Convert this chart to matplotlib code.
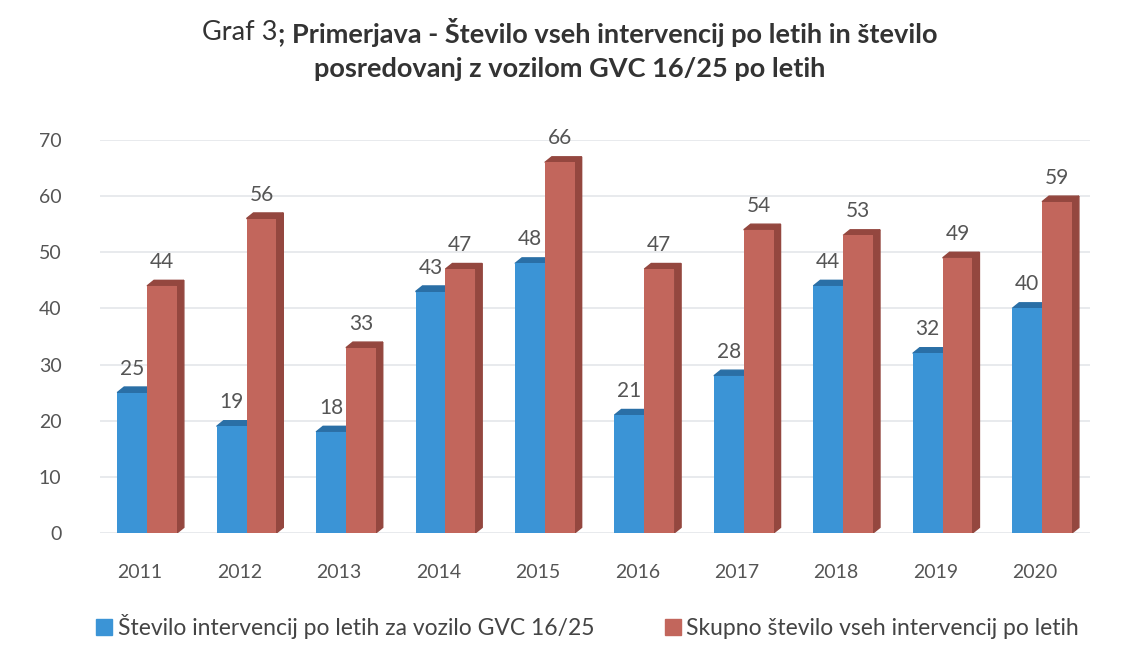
import matplotlib.pyplot as plt
from matplotlib.patches import Polygon
from matplotlib.lines import Line2D

# Data
years = ['2011', '2012', '2013', '2014', '2015', '2016', '2017', '2018', '2019', '2020']
gvc_counts = [25, 19, 18, 43, 48, 21, 28, 44, 32, 40]
total_counts = [44, 56, 33, 47, 66, 47, 54, 53, 49, 59]

label_gvc = 'Število intervencij po letih za vozilo GVC 16/25'
label_total = 'Skupno število vseh intervencij po letih'

blue = '#3b94d6'
blue_dark = '#2a6fa6'
red = '#c2665c'
red_dark = '#94473f'
text_col = '#555555'

plt.rcParams['font.family'] = ['Lato', 'DejaVu Sans']

fig = plt.figure(figsize=(11.4, 6.54), dpi=100)
ax = fig.add_axes([0.088, 0.185, 0.868, 0.601])

x = list(range(len(years)))
width = 0.3
depth_x = 0.07   # 3D depth offset, in x data units
depth_y = 1.0    # 3D depth offset, in y data units

ax.set_xlim(-0.47, 9.48)
ax.set_ylim(0, 70)
ax.set_yticks(range(0, 71, 10))
ax.grid(axis='y', color='#e4e6ea', linewidth=1.2)
ax.set_axisbelow(True)
for s in ax.spines.values():
    s.set_visible(False)

bars_gvc = ax.bar([i - width / 2 for i in x], gvc_counts, width, color=blue, zorder=3)
bars_total = ax.bar([i + width / 2 for i in x], total_counts, width, color=red, zorder=3)


def add_depth(bars, top_col, side_col, draw_side):
    for b in bars:
        x0 = b.get_x()
        x1 = x0 + b.get_width()
        h = b.get_height()
        top = Polygon([(x0, h), (x0 + depth_x, h + depth_y), (x1 + depth_x, h + depth_y), (x1, h)],
                      closed=True, color=top_col, zorder=2.5)
        ax.add_patch(top)
        if draw_side:
            side = Polygon([(x1, 0), (x1 + depth_x, depth_y), (x1 + depth_x, h + depth_y), (x1, h)],
                           closed=True, color=side_col, zorder=2.5)
            ax.add_patch(side)
        ax.text(x0 + b.get_width() / 2, h + depth_y + 1.5, str(int(h)), ha='center', va='bottom',
                fontsize=15, color=text_col)


add_depth(bars_gvc, blue_dark, blue_dark, False)
add_depth(bars_total, red_dark, red_dark, True)

ax.set_xticks([i - 0.07 for i in x])
ax.set_xticklabels(years)
ax.tick_params(axis='x', length=0, pad=22, labelsize=14, labelcolor=text_col)
ax.tick_params(axis='y', length=0, pad=28, labelsize=14, labelcolor=text_col)

# Title: "Graf 3" normal weight, the rest bold
renderer = fig.canvas.get_renderer()
t1 = fig.text(0, 0.95, 'Graf 3', fontsize=19.5, color='#333333', va='center', ha='left')
t2 = fig.text(0, 0.95, '; Primerjava - Število vseh intervencij po letih in število',
              fontsize=19.5, fontweight='bold', color='#333333', va='center', ha='left')
w1 = t1.get_window_extent(renderer).width
w2 = t2.get_window_extent(renderer).width
start = (fig.bbox.width - w1 - w2) / 2
t1.set_x(start / fig.bbox.width)
t2.set_x((start + w1) / fig.bbox.width)
fig.text(0.5, 0.895, 'posredovanj z vozilom GVC 16/25 po letih', fontsize=19.5, fontweight='bold',
         color='#333333', va='center', ha='center')

handles = [Line2D([], [], marker='s', linestyle='', markersize=11, color=blue),
           Line2D([], [], marker='s', linestyle='', markersize=11, color=red)]
leg = fig.legend(handles, [label_gvc, label_total], loc='center', bbox_to_anchor=(0.515, 0.042),
                 ncol=2, frameon=False, fontsize=16.5, handletextpad=0.2, columnspacing=3.0,
                 handlelength=0.8)
for t in leg.get_texts():
    t.set_color('#444444')

fig.savefig('out.png', dpi=100)
